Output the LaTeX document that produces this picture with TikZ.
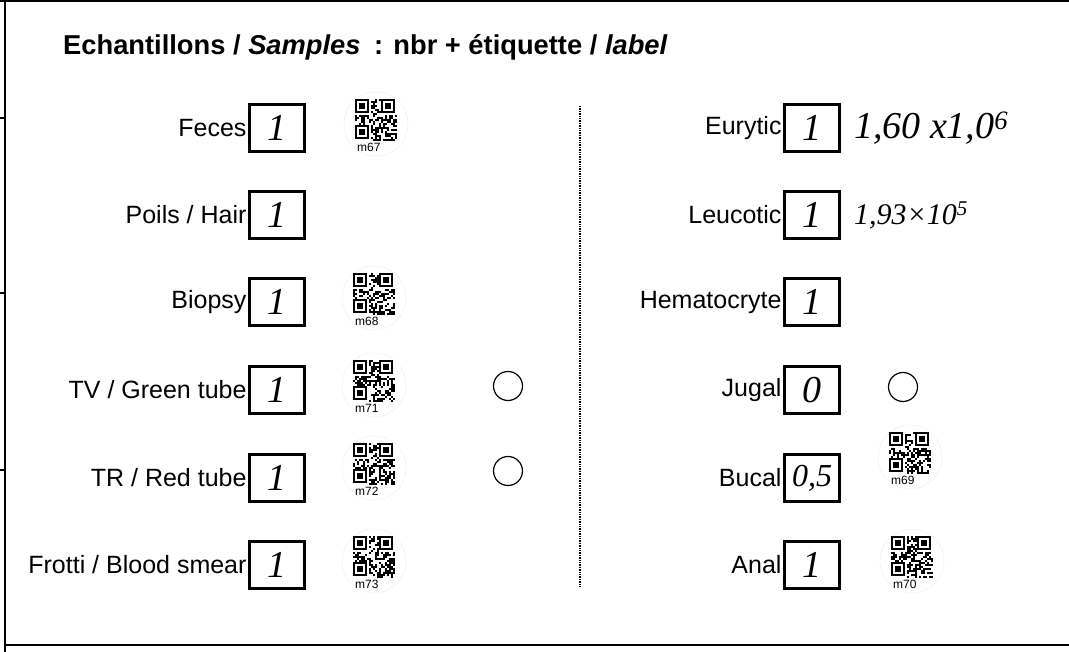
\documentclass[tikz,border=0pt]{standalone}
\usepackage{fontspec}
\setmainfont{Liberation Sans}
\newfontfamily\manuscrit{Liberation Serif}
\usetikzlibrary{positioning}

\begin{document}
\begin{tikzpicture}[x=1pt,y=-1pt,
    case/.style={draw, line width=2.6pt, minimum width=55pt, minimum height=47pt, inner sep=0pt},
    intitule/.style={inner sep=1.5pt, font=\fontsize{25}{30}\selectfont},
    rond/.style={draw, circle, line width=1.2pt, minimum size=29pt, inner sep=0pt},
    main/.style={inner sep=0pt, font=\manuscrit\itshape\fontsize{38}{42}\selectfont},
    code/.style={inner sep=0pt, font=\fontsize{12}{13}\selectfont}]

\useasboundingbox (0,0) rectangle (1069,652);

%cadre de la feuille
\draw[line width=2pt] (5,0) -- (5,652);
\draw[line width=1.5pt] (0,1) -- (1069,1);
\draw[line width=2pt] (5,645) -- (1069,645);
\foreach \y in {118,293,470}{\draw[line width=1.2pt] (0,\y) -- (5,\y);}

%titre
\node[anchor=base west, inner sep=0pt, font=\bfseries\fontsize{27.3}{32}\selectfont] (titre) at (63,55)
    {Echantillons / \textit{Samples}\enspace: nbr + étiquette / \textit{label}};

%étiquette QR : x, y (centre), nom, graine
\def\qr#1#2#3#4{
\begin{scope}[shift={(#1,#2)}]
    \draw[gray!45, densely dotted] (0,4) circle (32);
    \pgfmathsetseed{#4}
    \foreach \i in {0,...,20}{\foreach \j in {0,...,20}{
        \pgfmathrandominteger{\r}{0}{1}
        \ifnum\r=1 \fill (-21+\i*2,-21+\j*2) rectangle ++(2,2);\fi}}
    % les trois carrés de repère
    \foreach \a/\b in {0/0,13/0,0/13}{
        \fill[white] (-21+\a*2,-21+\b*2) rectangle ++(16,16);
        \fill (-21+\a*2,-21+\b*2) rectangle ++(14,14);
        \fill[white] (-19+\a*2,-19+\b*2) rectangle ++(10,10);
        \fill (-17+\a*2,-17+\b*2) rectangle ++(6,6);}
    \node[code, anchor=north west] (#3) at (-19,23) {#3};
\end{scope}}

%colonne de gauche
\node[case] (feces-case) at (277,128) {};
\node[case] (poils-case) at (277,215) {};
\node[case] (biopsy-case) at (277,302) {};
\node[case] (tv-case) at (277,390) {};
\node[case] (tr-case) at (277,478) {};
\node[case] (frotti-case) at (277,565) {};

\node[intitule, left=0pt of feces-case] (feces) {Feces};
\node[intitule, left=0pt of poils-case] (poils) {Poils / Hair};
\node[intitule, left=0pt of biopsy-case] (biopsy) {Biopsy};
\node[intitule, left=0pt of tv-case] (tv) {TV / Green tube};
\node[intitule, left=0pt of tr-case] (tr) {TR / Red tube};
\node[intitule, left=0pt of frotti-case] (frotti) {Frotti / Blood smear};

\foreach \n in {feces,poils,biopsy,tv,tr,frotti}{\node[main] at (\n-case) {1};}

\qr{376}{120}{m67}{67}
\qr{374}{294}{m68}{68}
\qr{374}{381}{m71}{71}
\qr{374}{464}{m72}{72}
\qr{374}{557}{m73}{73}

\node[rond] (tv-rond) at (508,386) {};
\node[rond] (tr-rond) at (508,471) {};

%séparation
\draw[line width=1.4pt, densely dotted] (580,106) -- (580,588);

%colonne de droite
\node[case] (eurytic-case) at (812,128) {};
\node[case] (leucotic-case) at (812,215) {};
\node[case] (hemato-case) at (812,302) {};
\node[case] (jugal-case) at (812,390) {};
\node[case] (bucal-case) at (812,478) {};
\node[case] (anal-case) at (812,565) {};

\node[intitule, left=0pt of eurytic-case] (eurytic) {Eurytic};
\node[intitule, left=0pt of leucotic-case] (leucotic) {Leucotic};
\node[intitule, left=0pt of hemato-case] (hemato) {Hematocryte};
\node[intitule, left=0pt of jugal-case] (jugal) {Jugal};
\node[intitule, left=0pt of bucal-case] (bucal) {Bucal};
\node[intitule, left=0pt of anal-case] (anal) {Anal};

\foreach \n in {eurytic,leucotic,hemato,anal}{\node[main] at (\n-case) {1};}
\node[main] at (jugal-case) {0};
\node[main, font=\manuscrit\itshape\fontsize{32}{36}\selectfont] at (bucal-case) {0,5};

\node[main, anchor=west, right=13pt of eurytic-case] (eurytic-val) {1,60 x1,0\textsuperscript{6}};
\node[main, anchor=west, right=13pt of leucotic-case, font=\manuscrit\itshape\fontsize{30}{34}\selectfont] (leucotic-val) {1,93×10\textsuperscript{5}};

\qr{910}{453}{m69}{69}
\qr{912}{557}{m70}{70}

\node[rond] (jugal-rond) at (903,387) {};

\end{tikzpicture}
\end{document}
